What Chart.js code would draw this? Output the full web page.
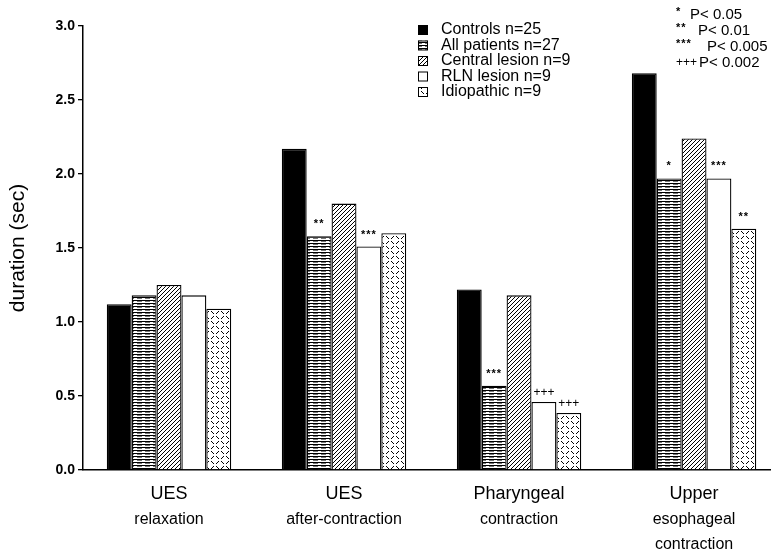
<!DOCTYPE html>
<html>
<head>
<meta charset="utf-8">
<script src="https://cdn.jsdelivr.net/npm/chart.js@4.4.0/dist/chart.umd.min.js"></script>
<style>
html, body { margin: 0; padding: 0; background: #fff; overflow: hidden; }
</style>
</head>
<body>
<canvas id="durChart" width="777" height="555"></canvas>
<script>
// category labels, one entry per line
const categories = [
	["UES", "relaxation"],
	["UES", "after-contraction"],
	["Pharyngeal", "contraction"],
	["Upper", "esophageal", "contraction"],
];
const seriesNames = ["Controls n=25", "All patients n=27", "Central lesion n=9", "RLN lesion n=9", "Idiopathic n=9"];
// duration (sec)
const controls = [1.12, 2.17, 1.22, 2.68];
const allPatients = [1.18, 1.58, 0.57, 1.97];
const centralLesion = [1.25, 1.80, 1.18, 2.24];
const rlnLesion = [1.18, 1.51, 0.46, 1.97];
const idiopathic = [1.09, 1.60, 0.385, 1.63];
// significance marks printed over the bars
const controlsSig = ["", "", "", ""];
const allPatientsSig = ["", "**", "***", "*"];
const centralSig = ["", "", "", ""];
const rlnSig = ["", "***", "+++", "***"];
const idiopathicSig = ["", "", "+++", "**"];
const sigSymbols = ["*", "**", "***", "+++"];
const sigTexts = ["P< 0.05", "P< 0.01", "P< 0.005", "P< 0.002"];

const FONT = '"Liberation Sans", Arial, Helvetica, sans-serif';

function makeTile(w, h, draw) {
	let shape = document.createElement("canvas");
	shape.width = w;
	shape.height = h;
	let c = shape.getContext("2d");
	c.fillStyle = "#fff";
	c.fillRect(0, 0, w, h);
	c.fillStyle = "#000";
	draw(c);
	return document.getElementById("durChart").getContext("2d").createPattern(shape, "repeat");
}
// horizontal lines (all patients)
function createHLinePattern() {
	return makeTile(8, 3, (c) => {
		c.fillRect(0, 0, 8, 1);
		c.fillStyle = "#777";
		c.fillRect(1, 1, 5, 1);
	});
}
// "/" hatch (central lesion)
function createDiagonalPattern() {
	return makeTile(4, 4, (c) => {
		for (let i = 0; i < 4; i++) c.fillRect(i, 3 - i, 1, 1);
	});
}
// scattered short dashes (idiopathic)
function createDashPattern() {
	return makeTile(10, 10, (c) => {
		// "\"
		c.fillRect(1, 1, 1, 1); c.fillRect(2, 2, 1, 1); c.fillRect(3, 3, 1, 1);
		// "/"
		c.fillRect(8, 1, 1, 1); c.fillRect(7, 2, 1, 1); c.fillRect(6, 3, 1, 1);
		// "/"
		c.fillRect(3, 6, 1, 1); c.fillRect(2, 7, 1, 1); c.fillRect(1, 8, 1, 1);
		// "\"
		c.fillRect(6, 6, 1, 1); c.fillRect(7, 7, 1, 1); c.fillRect(8, 8, 1, 1);
	});
}

const seriesValues = [controls, allPatients, centralLesion, rlnLesion, idiopathic];
const sigMarks = [controlsSig, allPatientsSig, centralSig, rlnSig, idiopathicSig];
const fills = ["#000", createHLinePattern(), createDiagonalPattern(), "#fff", createDashPattern()];

const datasets = seriesValues.map((vals, d) => ({
	label: seriesNames[d],
	data: vals.map((v, i) => ({ x: i, y: v })),
	backgroundColor: fills[d],
	borderColor: "#000",
	borderWidth: 1.3,
	categoryPercentage: 0.711,
	barPercentage: 1.0,
}));

const sigPlugin = {
	id: "sigMarks",
	afterDatasetsDraw(chart) {
		const ctx = chart.ctx;
		ctx.save();
		ctx.fillStyle = "#000";
		ctx.textAlign = "center";
		ctx.textBaseline = "alphabetic";
		sigMarks.forEach((marks, d) => {
			const meta = chart.getDatasetMeta(d);
			marks.forEach((m, i) => {
				if (!m) return;
				const bar = meta.data[i];
				if (m[0] == "+") {
					ctx.font = "12px " + FONT;
					ctx.letterSpacing = "0px";
					ctx.fillText(m, bar.x, bar.y - 6);
				} else {
					ctx.font = "bold 11px " + FONT;
					ctx.letterSpacing = "1px";
					ctx.fillText(m, bar.x, bar.y - 9);
				}
			});
		});
		ctx.restore();
	},
};

const labelPlugin = {
	id: "catLabels",
	afterDraw(chart) {
		const ctx = chart.ctx;
		const xs = chart.scales.x;
		const bottom = chart.chartArea.bottom;
		ctx.save();
		ctx.fillStyle = "#000";
		ctx.textAlign = "center";
		ctx.textBaseline = "middle";
		categories.forEach((lines, i) => {
			const px = xs.getPixelForValue(i);
			lines.forEach((t, j) => {
				ctx.font = (j == 0 ? "18px " : "16px ") + FONT;
				ctx.fillText(t, px, bottom + 24 + j * 25.5);
			});
		});
		ctx.restore();
	},
};

const legendPlugin = {
	id: "boxLegend",
	afterDraw(chart) {
		const ctx = chart.ctx;
		ctx.save();
		ctx.textBaseline = "middle";
		ctx.textAlign = "left";
		// series legend
		chart.data.datasets.forEach((ds, d) => {
			const y = 30 + d * 15.5;
			ctx.fillStyle = ds.backgroundColor;
			ctx.fillRect(418, y - 5, 10, 10);
			ctx.strokeStyle = "#000";
			ctx.lineWidth = 1;
			ctx.strokeRect(418.5, y - 4.5, 9, 9);
			ctx.fillStyle = "#000";
			ctx.font = "16px " + FONT;
			ctx.fillText(ds.label, 441, y);
		});
		// significance legend
		const pX = [690, 698, 707, 699];
		sigSymbols.forEach((s, k) => {
			const y = 15 + k * 16;
			ctx.fillStyle = "#000";
			if (s[0] == "+") {
				ctx.font = "12px " + FONT;
				ctx.letterSpacing = "0px";
				ctx.fillText(s, 676, y);
			} else {
				ctx.font = "bold 11px " + FONT;
				ctx.letterSpacing = "1px";
				ctx.fillText(s, 676, y - 3);
			}
			ctx.letterSpacing = "0px";
			ctx.font = "15px " + FONT;
			ctx.fillText(sigTexts[k], pX[k], y);
		});
		ctx.restore();
	},
};

new Chart(document.getElementById("durChart"), {
	type: "bar",
	data: { datasets: datasets },
	plugins: [sigPlugin, labelPlugin, legendPlugin],
	options: {
		responsive: false,
		animation: false,
		events: [],
		layout: { padding: { top: 26, right: 7, bottom: 85, left: 0 } },
		plugins: {
			legend: { display: false },
			tooltip: { enabled: false },
		},
		scales: {
			x: {
				type: "linear",
				min: -0.4914,
				max: 3.434,
				bounds: "data",
				offset: false,
				// one tick per group, so the bar width comes from the group spacing
				afterBuildTicks: (s) => { s.ticks = categories.map((c, i) => ({ value: i })); },
				ticks: { display: false },
				grid: { display: false },
				border: { display: true, color: "#000", width: 1.5 },
				afterFit: (s) => { s.height = 0; },
			},
			y: {
				min: 0,
				max: 3,
				ticks: {
					stepSize: 0.5,
					callback: (v) => v.toFixed(1),
					color: "#000",
					padding: 3,
					font: { family: FONT, size: 14, weight: "bold" },
				},
				grid: { drawOnChartArea: false, drawTicks: true, tickLength: 5, color: "#000", lineWidth: 1.3 },
				border: { display: true, color: "#000", width: 1.5 },
				title: {
					display: true,
					text: "duration (sec)",
					color: "#000",
					font: { family: FONT, size: 21 },
					padding: { top: 6, bottom: 0 },
				},
				afterFit: (s) => { s.width = 83; },
			},
		},
	},
});
</script>
</body>
</html>
